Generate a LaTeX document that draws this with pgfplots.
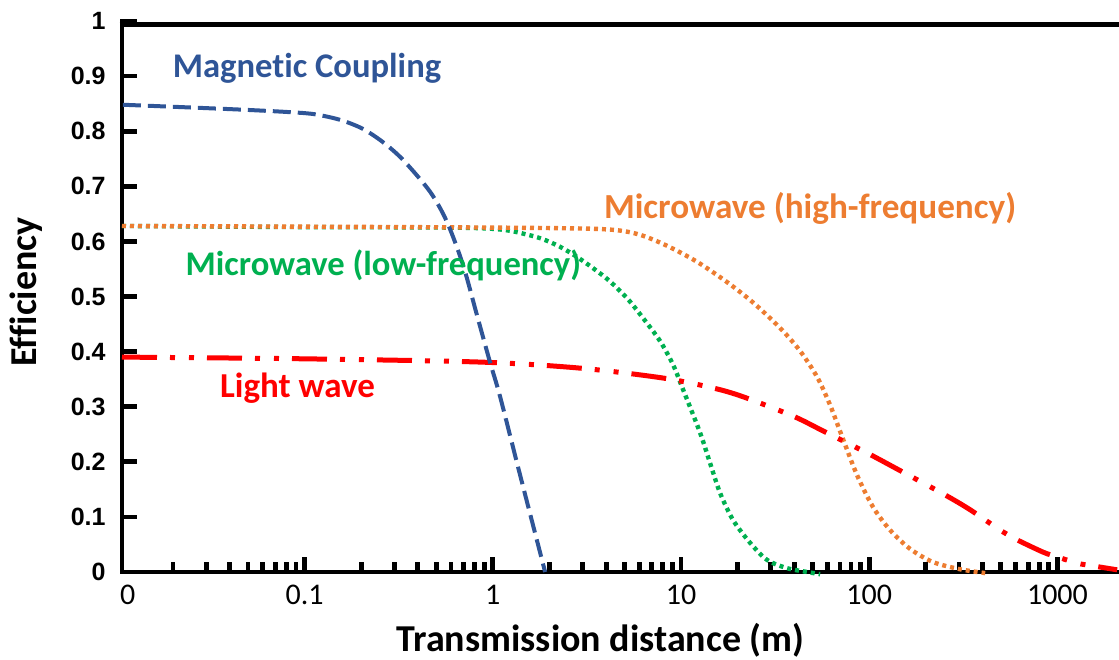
\documentclass[border=0pt]{standalone}
\usepackage{fontspec}
\setmainfont{Carlito}[RawFeature={-liga;-dlig;-clig}]
\newfontfamily\arialfont{Liberation Sans}
\usepackage{pgfplots}
\pgfplotsset{compat=1.18}
\definecolor{cblue}{HTML}{2F5597}
\definecolor{corange}{HTML}{ED7D31}
\definecolor{cgreen}{HTML}{00B050}
\definecolor{cred}{HTML}{FF0000}
\begin{document}
\begin{tikzpicture}
\begin{axis}[
  at={(0,0)}, anchor=south west,
  scale only axis, width=498.5pt, height=275.5pt,
  xmin=-1.97, xmax=3.327, ymin=0, ymax=1,
  axis x line*=bottom, axis y line*=left,
  axis line style={line width=2.3pt, black, line cap=rect},
  tick align=inside,
  xtick={-1,0,1,2,3}, xticklabels={0.1,1,10,100,1000},
  minor xtick={-1.699,-1.523,-1.398,-1.301,-1.222,-1.155,-1.097,-1.046,
    -0.699,-0.523,-0.398,-0.301,-0.222,-0.155,-0.097,-0.046,
    0.301,0.477,0.602,0.699,0.778,0.845,0.903,0.954,
    1.301,1.477,1.602,1.699,1.778,1.845,1.903,1.954,
    2.301,2.477,2.602,2.699,2.778,2.845,2.903,2.954},
  ytick={0,0.1,0.2,0.3,0.4,0.5,0.6,0.7,0.8,0.9,1},
  yticklabels={0,0.1,0.2,0.3,0.4,0.5,0.6,0.7,0.8,0.9,1},
  major tick length=7.5pt, minor tick length=5pt,
  every tick/.style={black, line width=2.4pt},
  xticklabel style={font=\fontsize{15}{18}\selectfont, anchor=base, yshift=-16pt},
  yticklabel style={font=\arialfont\bfseries\fontsize{12.5}{15}\selectfont, anchor=east, inner sep=0pt, xshift=-8pt},
  xlabel={Transmission distance (m)},
  xlabel style={font=\bfseries\fontsize{19}{23}\selectfont, at={(axis description cs:0.48,-0.145)}, anchor=base},
  ylabel={Efficiency},
  ylabel style={font=\bfseries\fontsize{19}{23}\selectfont, at={(axis description cs:-0.0963,0.508)}, anchor=center},
  clip=false,
]
\draw[line width=2.5pt] ([xshift=-1.15pt]rel axis cs:0,0.9936) -- (rel axis cs:1,0.9936);
\node[font=\fontsize{15}{18}\selectfont, anchor=base] at ([yshift=-16pt]axis cs:-1.94,0) {0};

% Microwave (low-frequency)
\addplot[cgreen, line width=2.2pt, dash pattern=on 2pt off 2pt, smooth] coordinates {
(-1.970,0.628) (-1.024,0.626) (-0.068,0.624) (0.198,0.611) (0.341,0.593) (0.464,0.568)
(0.607,0.532) (0.713,0.497) (0.798,0.461) (0.889,0.419) (0.958,0.376) (1.011,0.331)
(1.101,0.253) (1.154,0.198) (1.208,0.143) (1.277,0.094) (1.367,0.053) (1.457,0.022)
(1.563,0.007) (1.670,0.000) (1.739,-0.004)};

% Microwave (high-frequency)
\addplot[corange, line width=2.2pt, dash pattern=on 2pt off 2pt, smooth] coordinates {
(-1.970,0.628) (-0.493,0.626) (0.357,0.624) (0.639,0.621) (0.782,0.612) (0.926,0.592)
(1.085,0.563) (1.245,0.526) (1.383,0.489) (1.526,0.443) (1.633,0.401) (1.723,0.354)
(1.792,0.303) (1.861,0.241) (1.935,0.176) (2.020,0.118) (2.111,0.076) (2.217,0.042)
(2.339,0.018) (2.483,0.005) (2.616,-0.002)};

% Light wave
\addplot[cred, line width=2.5pt, dash pattern=on 17.5pt off 6.5pt on 2.5pt off 7pt on 2.5pt off 6.5pt, smooth] coordinates {
(-1.970,0.390) (-1.024,0.387) (-0.068,0.381) (0.464,0.370) (0.905,0.352) (1.170,0.334)
(1.330,0.318) (1.595,0.283) (1.755,0.256) (1.989,0.216) (2.148,0.187) (2.392,0.142)
(2.536,0.113) (2.695,0.076) (2.764,0.062) (2.924,0.036) (3.003,0.027) (3.104,0.016)
(3.189,0.011) (3.317,0.004)};

% Magnetic Coupling
\addplot[cblue, line width=2pt, dash pattern=on 9pt off 3.5pt, smooth] coordinates {
(-1.965,0.848) (-1.327,0.839) (-1.008,0.833) (-0.902,0.828) (-0.796,0.819) (-0.689,0.804)
(-0.583,0.780) (-0.477,0.748) (-0.333,0.690) (-0.243,0.635) (-0.158,0.557) (-0.084,0.466)
(-0.015,0.381) (0.039,0.318) (0.145,0.176) (0.278,0.000)};

\node[font=\bfseries\fontsize{17.3}{20}\selectfont, text=cblue, anchor=base] at (axis cs:-0.987,0.897) {Magnetic Coupling};
\node[font=\bfseries\fontsize{17.6}{20}\selectfont, text=corange, anchor=base] at (axis cs:1.686,0.642) {Microwave (high-frequency)};
\node[font=\bfseries\fontsize{17.3}{20}\selectfont, text=cgreen, anchor=base] at (axis cs:-0.581,0.539) {Microwave (low-frequency)};
\node[font=\bfseries\fontsize{17.5}{20}\selectfont, text=cred, anchor=base] at (axis cs:-1.037,0.316) {Light wave};
\end{axis}
\pgfresetboundingbox
\path (-61pt,-43.5pt) rectangle (498.5pt,286pt);
\end{tikzpicture}
\end{document}
